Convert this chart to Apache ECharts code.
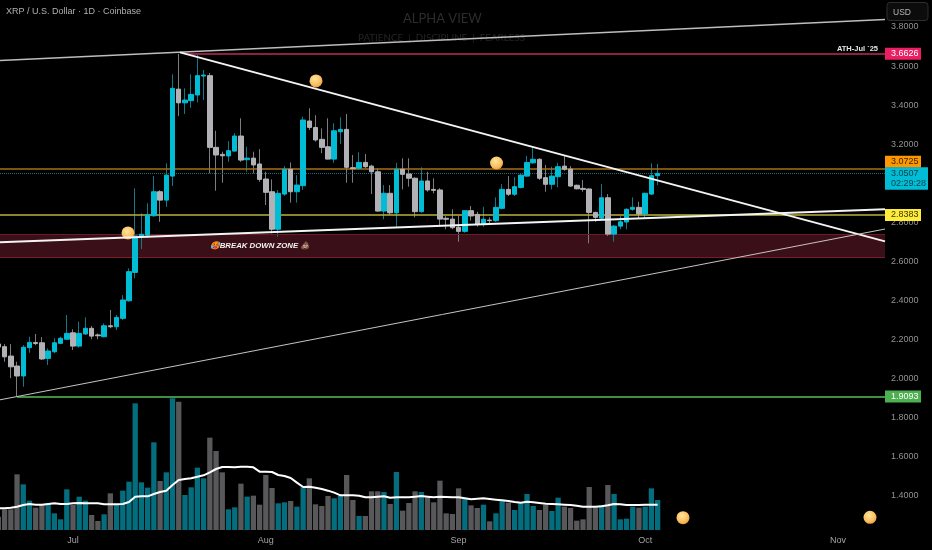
<!DOCTYPE html>
<html>
<head>
<meta charset="utf-8">
<style>html,body{margin:0;padding:0;background:#000}#c{width:932px;height:550px}</style>
<script src="https://cdn.jsdelivr.net/npm/echarts@6/dist/echarts.min.js"></script>
</head>
<body>
<div id="c"></div>
<script>
// day number: 0 = 1 Jul 2025
const firstDay = -12;
const opens = [2.178,2.164,2.116,2.065,2.014,2.159,2.185,2.184,2.104,2.138,2.181,2.202,2.235,2.167,2.229,2.258,2.224,2.215,2.271,2.266,2.309,2.399,2.544,2.727,2.735,2.834,2.957,2.914,3.037,3.482,3.412,3.423,3.452,3.549,3.551,3.184,3.148,3.140,3.165,3.242,3.121,3.129,3.099,3.022,2.957,2.765,2.945,3.072,2.957,2.988,3.319,3.286,3.225,3.187,3.124,3.264,3.276,3.080,3.077,3.107,3.088,3.059,2.858,2.949,2.849,3.072,3.048,3.026,2.855,3.012,2.969,2.966,2.821,2.817,2.775,2.754,2.860,2.841,2.790,2.812,2.809,2.872,2.969,2.944,2.979,3.037,3.105,3.123,3.029,2.995,3.034,3.088,3.073,2.990,2.974,2.971,2.851,2.822,2.926,2.740,2.781,2.802,2.867,2.877,2.843,2.945,3.039];
const closes = [2.162,2.112,2.061,2.014,2.161,2.186,2.180,2.101,2.142,2.184,2.207,2.232,2.167,2.232,2.258,2.218,2.220,2.271,2.266,2.314,2.403,2.548,2.730,2.739,2.838,2.957,2.914,3.042,3.486,3.412,3.426,3.455,3.551,3.554,3.184,3.145,3.141,3.167,3.242,3.119,3.129,3.094,3.020,2.954,2.765,2.949,3.072,2.957,2.991,3.324,3.286,3.222,3.184,3.124,3.269,3.276,3.082,3.075,3.107,3.085,3.059,2.858,2.949,2.849,3.072,3.046,3.026,2.855,3.012,2.966,2.964,2.817,2.816,2.773,2.754,2.860,2.833,2.790,2.816,2.809,2.877,2.969,2.944,2.983,3.042,3.107,3.123,3.026,2.995,3.037,3.085,3.072,2.986,2.972,2.969,2.851,2.826,2.926,2.740,2.781,2.803,2.867,2.877,2.843,2.949,3.039,3.0507];
const lows = [2.137,2.087,2.003,1.909,1.959,2.133,2.172,2.096,2.070,2.130,2.177,2.200,2.147,2.159,2.224,2.202,2.202,2.212,2.258,2.249,2.300,2.394,2.514,2.664,2.727,2.829,2.803,2.880,2.986,3.344,3.355,3.387,3.414,3.426,3.051,2.962,3.003,3.110,3.162,3.110,3.059,3.051,3.008,2.889,2.744,2.727,2.936,2.901,2.901,2.966,3.273,3.213,3.154,3.123,3.105,3.201,3.003,3.003,3.072,3.077,2.945,2.855,2.816,2.838,2.778,2.969,2.983,2.826,2.849,2.957,2.949,2.778,2.765,2.765,2.701,2.747,2.809,2.778,2.778,2.795,2.803,2.867,2.935,2.935,2.974,3.034,3.099,3.017,2.957,2.969,2.979,3.064,2.983,2.969,2.957,2.693,2.803,2.816,2.730,2.701,2.765,2.765,2.860,2.821,2.821,2.940,2.991];
const highs = [2.193,2.177,2.177,2.087,2.172,2.215,2.229,2.213,2.155,2.207,2.215,2.326,2.253,2.292,2.314,2.270,2.232,2.283,2.352,2.326,2.428,2.565,2.974,2.846,2.898,3.037,2.965,3.102,3.558,3.663,3.486,3.558,3.657,3.580,3.565,3.269,3.162,3.216,3.256,3.333,3.187,3.162,3.175,3.059,3.020,2.966,3.088,3.107,3.042,3.341,3.384,3.349,3.281,3.333,3.307,3.338,3.355,3.145,3.159,3.150,3.095,3.077,2.991,2.991,3.105,3.128,3.128,3.031,3.082,3.059,3.026,2.975,2.833,2.867,2.833,2.863,2.884,2.855,2.880,2.826,2.928,2.996,3.037,3.031,3.047,3.141,3.184,3.128,3.094,3.085,3.105,3.140,3.088,2.993,3.017,2.974,2.855,2.996,2.945,2.786,2.833,2.872,2.928,2.906,2.952,3.102,3.099];
const volumes = [40,62,62,167,137,88,67,75,78,50,32,122,75,100,88,45,27,47,110,78,118,145,380,143,127,263,147,173,395,385,105,128,187,155,277,237,173,62,68,139,100,103,76,165,126,80,83,87,70,128,155,77,72,102,95,102,165,90,42,42,116,116,114,78,174,58,81,116,114,98,83,148,50,48,125,95,74,66,76,26,50,90,82,60,80,108,72,60,75,57,97,70,66,28,32,129,68,75,135,108,32,34,70,67,70,125,90];
const volumeMA = [65,65,67,70,75,78,76,76,78,80,78,78,80,81,80,80,80,77,77,77,78,84,100,101,101,108,114,118,135,150,153,155,160,164,173,183,189,189,188,190,190,188,175,175,174,165,162,156,142,129,130,127,123,118,112,104,104,104,103,98,98,100,101,97,98,98,98,100,102,100,98,100,99,98,98,95,92,94,95,93,91,89,87,84,82,85,83,81,79,78,77,76,75,73,70,70,70,71,74,78,77,75,75,75,76,76,76];

const monthDays = [0,31,62,92,123];
const monthNames = ['Jul','Aug','Sep','Oct','Nov'];
const priceTicks = {min:1.4,max:3.9,interval:0.2};
const xRange = {min:-11.74,max:130.56};

// [[day, price],[day, price]]
const trendUpperGrey = [[-11.74,3.629],[130.56,3.839]];
const trendFalling = [[17.2,3.670],[130.56,2.703]];
const trendRising = [[-11.74,2.698],[130.56,2.867]];
const trendLowerGrey = [[-11.74,1.892],[130.56,2.766]];

const athLevel = 3.6626, athStartDay = 18;
const orangeLevel = 3.0725;
const lastPrice = 3.0507;
const yellowLevel = 2.8383;
const greenLevel = 1.9093, greenStartDay = -9;
const zoneTop = 2.7407, zoneBottom = 2.621;
const moonDays = [8.84,39.07,68.1];
const moonPrices = [2.746,3.524,3.104];
const lowerMoonDays = [98.08,128.15];
const lowerMoonLevels = [37,38];
const zoneLabelPoint = [30.06,2.681];

const UP='#00bcd4', DOWN='#b2b2b6', UPW='#14788a', DOWNW='#7d7d80', VUP='#046e7e', VDOWN='#58585b';
const FONT='"Liberation Sans",Arial,sans-serif';
const days = opens.map((_,i)=>firstDay+i);
const wickData = days.map((d,i)=>[d,opens[i],closes[i],lows[i],highs[i]]);
const bodyData = days.map((d,i)=>[d,opens[i],closes[i],Math.min(opens[i],closes[i]),Math.max(opens[i],closes[i])]);
const volData = days.map((d,i)=>({value:[d,volumes[i]],itemStyle:{color:closes[i]>=opens[i]?VUP:VDOWN}}));
const maData = days.map((d,i)=>[d,volumeMA[i]]);
const moonStyle = {opacity:1,color:{type:'radial',x:0.42,y:0.35,r:0.72,colorStops:[{offset:0,color:'#ffe6a0'},{offset:0.65,color:'#fbbd5c'},{offset:1,color:'#e8963c'}]}};

function tag(price,text,bg,fg,off,startDay,lineColor,lineWidth,lineType,wide,lh){
  return [
    {coord:[startDay==null?xRange.min:startDay,price],lineStyle:{color:lineColor,width:lineWidth,type:lineType||'solid'},
     label:{show:true,position:'end',formatter:text,backgroundColor:bg,color:fg,fontFamily:FONT,fontSize:9,lineHeight:lh||10.5,
            padding:[1,2,0.5,6],distance:0,offset:off||[0,0],width:wide||28,align:'left'}},
    {coord:[xRange.max,price]}
  ];
}
function trend(pts,color,width,z){
  return {type:'line',xAxisIndex:0,yAxisIndex:0,data:pts,showSymbol:false,silent:true,clip:true,z:z||6,
          lineStyle:{color:color,width:width},animation:false};
}

const option = {
  backgroundColor:'#000',
  animation:false,
  title:[
    {text:'XRP / U.S. Dollar · 1D · Coinbase',left:6,top:7,padding:0,textStyle:{color:'#b0b0b0',fontSize:9,fontWeight:'normal',fontFamily:FONT}},
    {text:'ALPHA VIEW',left:403,top:12,padding:0,textStyle:{color:'#2c2c2c',fontSize:13,fontWeight:'normal',fontFamily:'Lato'}},
    {text:'PATIENCE  |  DISCIPLINE  |  FEARLESS',left:358,top:33,padding:0,textStyle:{color:'#242424',fontSize:9.8,fontWeight:'normal',fontFamily:'Lato'}}
  ],
  graphic:[
    {type:'rect',shape:{x:887,y:2.5,width:41,height:18,r:3},style:{fill:'#0c0c0c',stroke:'#2e2e2e',lineWidth:1},z:20},
    {type:'text',x:893,y:8,style:{text:'USD',fill:'#b5b5b5',font:'8.5px '+FONT},z:21}
  ],
  grid:[
    {left:0,width:885,top:7.46,height:488.5},
    {left:0,width:885,top:397,height:133}
  ],
  xAxis:[
    {type:'value',gridIndex:0,min:xRange.min,max:xRange.max,show:false,splitLine:{show:false}},
    {type:'value',gridIndex:1,min:xRange.min,max:xRange.max,axisLine:{show:false},axisTick:{show:false},splitLine:{show:false},
     axisLabel:{customValues:monthDays,color:'#a4a4a4',fontSize:9,fontFamily:FONT,margin:6,
       formatter:v=>monthNames[monthDays.indexOf(Math.round(v))]||''}}
  ],
  yAxis:[
    {type:'value',gridIndex:0,position:'right',min:priceTicks.min,max:priceTicks.max,interval:priceTicks.interval,
     axisLine:{show:false},axisTick:{show:false},splitLine:{show:false},
     axisLabel:{color:'#929292',fontSize:9,fontFamily:FONT,margin:6,showMaxLabel:false,formatter:v=>v.toFixed(4)}},
    {type:'value',gridIndex:1,min:0,max:399,show:false,splitLine:{show:false}}
  ],
  series:[
    // zone and horizontal levels, below the candles
    {type:'line',xAxisIndex:0,yAxisIndex:0,data:[],z:1,silent:true,
     markArea:{silent:true,itemStyle:{color:'#3a0f17'},data:[[{coord:[xRange.min,zoneTop]},{coord:[xRange.max,zoneBottom]}]]},
     markLine:{silent:true,symbol:'none',animation:false,data:[
       [{coord:[xRange.min,zoneTop],lineStyle:{color:'#6d1a28',width:1,type:'solid'},label:{show:false}},{coord:[xRange.max,zoneTop]}],
       [{coord:[xRange.min,zoneBottom],lineStyle:{color:'#7a1c2c',width:1,type:'solid'},label:{show:false}},{coord:[xRange.max,zoneBottom]}],
       tag(athLevel,'3.6626','#e91e63','#fff',[0,0],athStartDay,'#8c2147',2),
       [{coord:[athStartDay,athLevel],lineStyle:{color:'rgba(0,0,0,0)'},label:{show:true,position:'insideEndTop',formatter:'ATH-Jul `25',color:'#e6e6e6',fontWeight:'bold',fontSize:7.5,fontFamily:FONT,distance:1,offset:[-6,0]}},{coord:[xRange.max,athLevel]}],
       tag(orangeLevel,'3.0725','#ff9800','#3a2400',[0,-7.5],null,'#a86f12',1.5),
       tag(lastPrice,'3.0507\n02:29:28','#00bcd4','#07424e',[0,5],null,'#1c6a7a',1,'dotted',35,10.5),
       tag(yellowLevel,'2.8383','#ffeb3b','#3a3600',[0,0],null,'#bdb23a',1.5),
       tag(greenLevel,'1.9093','#4caf50','#fff',[0,0],greenStartDay,'#3f8f44',2)
     ]}},
    // volume
    {type:'bar',xAxisIndex:1,yAxisIndex:1,data:volData,barWidth:5.3,z:2,silent:true},
    {type:'line',xAxisIndex:1,yAxisIndex:1,data:maData,showSymbol:false,z:3,silent:true,lineStyle:{color:'#fff',width:2}},
    // candles: wicks then bodies
    {type:'candlestick',xAxisIndex:0,yAxisIndex:0,data:wickData,barWidth:1,z:4,silent:true,
     itemStyle:{color:UPW,color0:DOWNW,borderColor:UPW,borderColor0:DOWNW,borderColorDoji:DOWNW,borderWidth:1}},
    {type:'candlestick',xAxisIndex:0,yAxisIndex:0,data:bodyData,barWidth:5,z:5,silent:true,
     itemStyle:{color:UP,color0:DOWN,borderColor:UP,borderColor0:DOWN,borderColorDoji:DOWN,borderWidth:1}},
    // moons
    {type:'scatter',xAxisIndex:0,yAxisIndex:0,data:moonDays.map((d,i)=>[d,moonPrices[i]]),symbolSize:13,z:5,silent:true,itemStyle:moonStyle},
    {type:'scatter',xAxisIndex:1,yAxisIndex:1,data:lowerMoonDays.map((d,i)=>[d,lowerMoonLevels[i]]),symbolSize:13,z:5,silent:true,itemStyle:moonStyle},
    // trend lines
    trend(trendUpperGrey,'#bdbdbd',1.5),
    trend(trendFalling,'#f4f4f4',2),
    trend(trendRising,'#f4f4f4',2),
    trend(trendLowerGrey,'#c9c3c3',1),
    // zone caption
    {type:'scatter',xAxisIndex:0,yAxisIndex:0,data:[zoneLabelPoint],symbolSize:1,z:7,silent:true,itemStyle:{color:'rgba(0,0,0,0)',opacity:1},
     label:{show:true,position:'inside',formatter:'🥵BREAK DOWN ZONE 💩',color:'#f2f2f2',fontStyle:'italic',fontWeight:'bold',fontSize:7.8,fontFamily:FONT}}
  ]
};
const chart = echarts.init(document.getElementById('c'),null,{renderer:'canvas'});
chart.setOption(option);
</script>
</body>
</html>
